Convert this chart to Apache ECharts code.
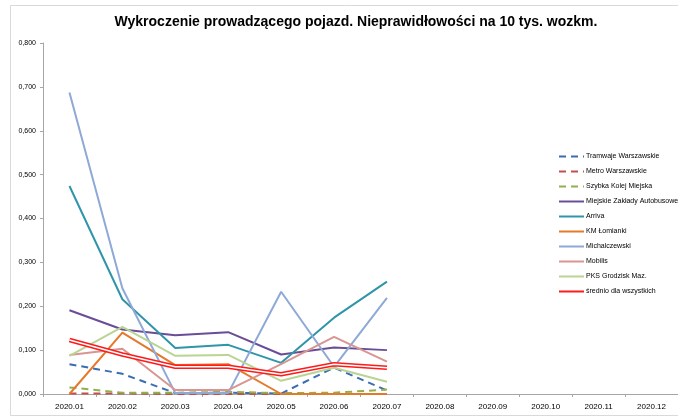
<!DOCTYPE html>
<html>
<head>
<meta charset="utf-8">
<script src="https://cdn.jsdelivr.net/npm/echarts@6/dist/echarts.min.js"></script>
<style>
  html, body { margin: 0; padding: 0; background: #fff; }
  #chart { width: 678px; height: 419px; }
</style>
</head>
<body>
<div id="chart"></div>
<script>
// miesiące na osi X
var months = ['2020.01', '2020.02', '2020.03', '2020.04', '2020.05', '2020.06',
              '2020.07', '2020.08', '2020.09', '2020.10', '2020.11', '2020.12'];

// dane (nieprawidłowości na 10 tys. wozkm)
var tramwaje     = [0.068, 0.046, 0.002, 0.003, 0.001, 0.060, 0.008];
var metro        = [0.001, 0.001, 0.000, 0.000, 0.000, 0.000, 0.000];
var skm          = [0.015, 0.003, 0.003, 0.005, 0.002, 0.003, 0.010];
var mza          = [0.191, 0.147, 0.134, 0.141, 0.090, 0.106, 0.100];
var arriva       = [0.474, 0.216, 0.105, 0.112, 0.071, 0.174, 0.256];
var kmLomianki   = [0.000, 0.140, 0.066, 0.068, 0.000, 0.000, 0.000];
var michalczewski = [0.687, 0.241, 0.002, 0.002, 0.233, 0.062, 0.219];
var mobilis      = [0.089, 0.103, 0.009, 0.009, 0.068, 0.130, 0.074];
var pks          = [0.087, 0.153, 0.087, 0.089, 0.030, 0.060, 0.028];
var srednio      = [0.123, 0.090, 0.062, 0.062, 0.045, 0.068, 0.060];

var names = ['Tramwaje Warszawskie', 'Metro Warszawskie', 'Szybka Kolej Miejska',
             'Miejskie Zakłady Autobusowe', 'Arriva', 'KM Łomianki', 'Michalczewski',
             'Mobilis', 'PKS Grodzisk Maz.', 'średnio dla wszystkich'];

var font = 'Liberation Sans';

function line(name, data, color, dashed) {
  return {
    name: name,
    type: 'line',
    data: data,
    symbol: 'none',
    showSymbol: false,
    lineStyle: { color: color, width: 2, type: dashed ? [7, 5] : 'solid' },
    itemStyle: { color: color },
    z: 2
  };
}

var chart = echarts.init(document.getElementById('chart'));
chart.setOption({
  animation: false,
  backgroundColor: '#fff',
  title: {
    text: 'Wykroczenie prowadzącego pojazd. Nieprawidłowości na 10 tys. wozkm.',
    left: 351,
    textAlign: 'center',
    top: 10,
    textStyle: { fontFamily: font, fontSize: 14, fontWeight: 'bold', color: '#000' }
  },
  graphic: [{
    type: 'rect',
    shape: { x: 10.5, y: 5.5, width: 700, height: 410 },
    style: { fill: 'none', stroke: '#d9d9d9', lineWidth: 1 },
    silent: true
  }],
  legend: {
    orient: 'vertical',
    left: 558,
    top: 153,
    padding: 0,
    itemWidth: 25,
    itemHeight: 8,
    itemGap: 8,
    data: names,
    itemStyle: { color: 'transparent', borderWidth: 0 },
    textStyle: { fontFamily: font, fontSize: 7, color: '#000', padding: [0, 0, 0, -3] }
  },
  grid: { left: 43, right: -3, top: 43, bottom: 25 },
  xAxis: {
    type: 'category',
    data: months,
    axisLine: { lineStyle: { color: '#a6a6a6', width: 1 } },
    axisTick: { show: true, length: 3, lineStyle: { color: '#a6a6a6' } },
    axisLabel: { fontFamily: font, fontSize: 8, color: '#000', margin: 9 }
  },
  yAxis: {
    type: 'value',
    min: 0,
    max: 0.8,
    interval: 0.1,
    axisLine: { show: true, lineStyle: { color: '#a6a6a6', width: 1 } },
    axisTick: { show: true, length: 3, lineStyle: { color: '#a6a6a6' } },
    splitLine: { show: false },
    axisLabel: {
      fontFamily: font, fontSize: 7, color: '#000', margin: 7,
      formatter: function (v) { return v.toFixed(3).replace('.', ','); }
    }
  },
  series: [
    line(names[0], tramwaje, '#3a6db3', true),
    line(names[1], metro, '#c0504d', true),
    line(names[2], skm, '#8fb04c', true),
    line(names[3], mza, '#6a4c97', false),
    line(names[4], arriva, '#2f95a8', false),
    line(names[5], kmLomianki, '#e6782a', false),
    line(names[6], michalczewski, '#8ea9d6', false),
    line(names[7], mobilis, '#d99592', false),
    line(names[8], pks, '#b9d493', false),
    {
      name: names[9],
      type: 'line',
      data: srednio,
      symbol: 'none',
      lineStyle: { color: '#ff1a1a', width: 4.5 },
      itemStyle: { color: '#ff1a1a' },
      z: 3
    },
    {
      // biały środek linii średniej (efekt podwójnej linii)
      name: 'srednio-srodek',
      type: 'line',
      data: srednio,
      symbol: 'none',
      lineStyle: { color: '#ffffff', width: 1.5 },
      z: 4
    }
  ]
});
</script>
</body>
</html>
